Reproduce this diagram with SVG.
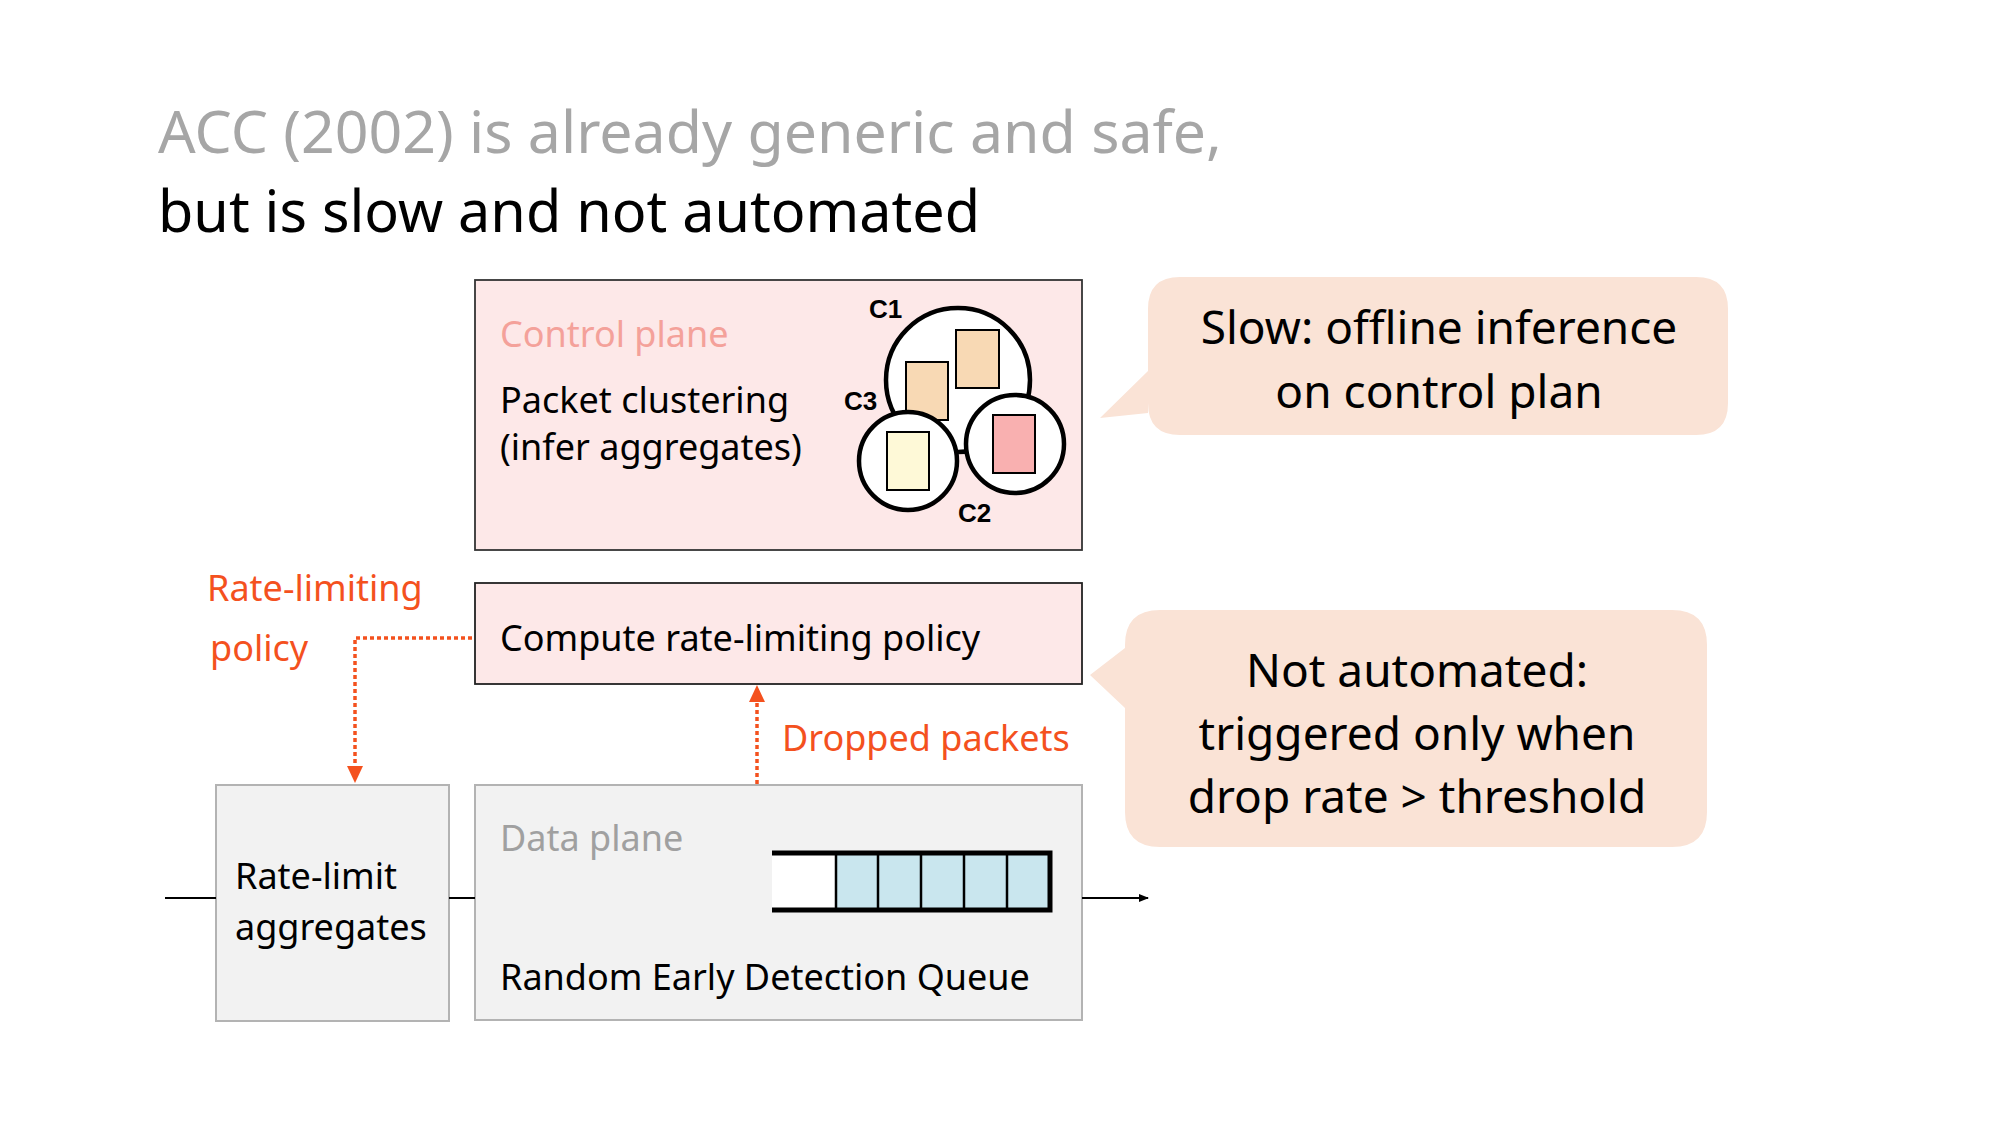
<svg xmlns="http://www.w3.org/2000/svg" width="2000" height="1125" viewBox="0 0 2000 1125">
<style>
text{font-family:"Noto Sans","Open Sans","DejaVu Sans",sans-serif;}
.t{font-size:36px;fill:#000;}
.o{font-size:36px;fill:#f4511e;}
.c{font-size:46px;fill:#000;text-anchor:middle;}
.cl{font-family:"Liberation Sans",Arial,sans-serif;font-weight:bold;font-size:26px;fill:#000;}
.pink{fill:#fde8e8;stroke:#333;stroke-width:1.8;}
.grey{fill:#f2f2f2;stroke:#b3b3b3;stroke-width:2;}
.call{fill:#fae3d6;}
.circ{fill:#fff;stroke:#000;stroke-width:4.5;}
.pk{stroke:#000;stroke-width:2;}
.dot{fill:none;stroke:#f4511e;stroke-width:3.5;stroke-dasharray:4 3;}
.flow{fill:none;stroke:#000;stroke-width:2;}
</style>
<defs>
<marker id="ba" viewBox="0 0 10 10" refX="9" refY="5" markerWidth="5" markerHeight="5" orient="auto" markerUnits="strokeWidth"><path d="M0,1 L10,5 L0,9 z" fill="#000"/></marker>
</defs>
<rect width="2000" height="1125" fill="#fff"/>
<g id="title">
<text x="158" y="153" style="font-size:59px;fill:#a6a6a6">ACC (2002) is already generic and safe,</text>
<text x="158" y="232" style="font-size:57.5px;fill:#000">but is slow and not automated</text>
</g>
<g id="control-plane">
<rect class="pink" x="475" y="280" width="607" height="270"/>
<text x="500" y="347" style="font-size:36px;fill:#f4a19a">Control plane</text>
<text class="t" x="500" y="413">Packet clustering</text>
<text class="t" x="500" y="460">(infer aggregates)</text>
<circle class="circ" cx="958" cy="380" r="72"/>
<rect class="pk" x="956" y="330" width="43" height="58" fill="#f8d9b4"/>
<rect class="pk" x="906" y="362" width="42" height="58" fill="#f8d9b4"/>
<circle class="circ" cx="908" cy="461" r="49"/>
<rect class="pk" x="887" y="432" width="42" height="58" fill="#fef9d7"/>
<circle class="circ" cx="1015" cy="444" r="49"/>
<rect class="pk" x="993" y="415" width="42" height="58" fill="#f9b0b0"/>
<text class="cl" x="869" y="318">C1</text>
<text class="cl" x="844" y="410">C3</text>
<text class="cl" x="958" y="522">C2</text>
</g>
<g id="compute">
<rect class="pink" x="475" y="583" width="607" height="101" style="stroke:#222"/>
<text class="t" x="500" y="651">Compute rate-limiting policy</text>
</g>
<g id="rate-limit">
<rect class="grey" x="216" y="785" width="233" height="236"/>
<text class="t" x="235" y="889">Rate-limit</text>
<text class="t" x="235" y="940">aggregates</text>
</g>
<g id="data-plane">
<rect class="grey" x="475" y="785" width="607" height="235"/>
<text x="500" y="851" style="font-size:36px;fill:#a0a0a0">Data plane</text>
<text class="t" x="500" y="990">Random Early Detection Queue</text>
<rect x="772" y="852" width="64" height="59" fill="#fff"/>
<rect x="836" y="852" width="214" height="59" fill="#c9e6ee"/>
<g stroke="#000" stroke-width="2.5">
<line x1="836" y1="852" x2="836" y2="911"/>
<line x1="878" y1="852" x2="878" y2="911"/>
<line x1="921" y1="852" x2="921" y2="911"/>
<line x1="964" y1="852" x2="964" y2="911"/>
<line x1="1007" y1="852" x2="1007" y2="911"/>
</g>
<path d="M772,853 H1050 V910 H772" fill="none" stroke="#000" stroke-width="5"/>
</g>
<g id="callout-slow">
<path class="call" d="M1180,277 H1696 Q1728,277 1728,309 V403 Q1728,435 1696,435 H1180 Q1148,435 1148,403 V413 L1100,418 L1148,371 V309 Q1148,277 1180,277 Z"/>
<text class="c" x="1439" y="344">Slow: offline inference</text>
<text class="c" x="1439" y="408">on control plan</text>
</g>
<g id="callout-auto">
<path class="call" d="M1160,610 H1672 Q1707,610 1707,645 V812 Q1707,847 1672,847 H1160 Q1125,847 1125,812 V708 L1090,675 L1125,648 V645 Q1125,610 1160,610 Z"/>
<text class="c" x="1417" y="687">Not automated:</text>
<text class="c" x="1417" y="750">triggered only when</text>
<text class="c" x="1417" y="813">drop rate &gt; threshold</text>
</g>
<g id="connectors">
<line class="flow" x1="165" y1="898" x2="216" y2="898"/>
<line class="flow" x1="449" y1="898" x2="475" y2="898"/>
<line class="flow" x1="1082" y1="898" x2="1148" y2="898" marker-end="url(#ba)"/>
<path class="dot" d="M472,638 H355 V768"/>
<path d="M347,766 L363,766 L355,783 Z" fill="#f4511e"/>
<path class="dot" d="M757,784 V700"/>
<path d="M749,702 L765,702 L757,685 Z" fill="#f4511e"/>
<text class="o" x="207" y="601">Rate-limiting</text>
<text class="o" x="210" y="661">policy</text>
<text class="o" x="782" y="751">Dropped packets</text>
</g>
</svg>
